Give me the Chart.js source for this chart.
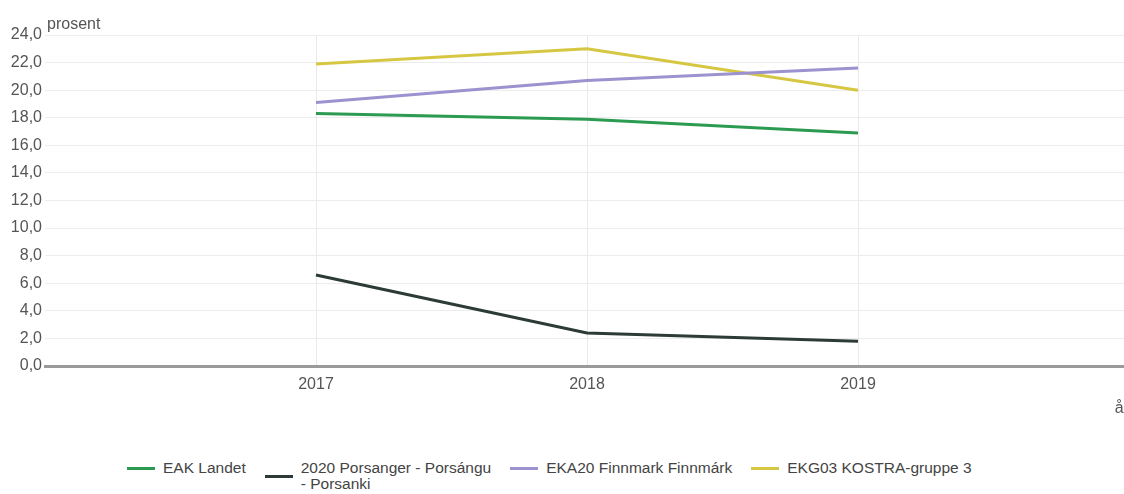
<!DOCTYPE html>
<html>
<head>
<meta charset="utf-8">
<script src="https://cdn.jsdelivr.net/npm/chart.js@4.4.1/dist/chart.umd.min.js"></script>
<style>
  html, body { margin: 0; padding: 0; background: #fff; overflow: hidden; }
  body { width: 1124px; height: 494px; position: relative; font-family: "Liberation Sans", Arial, sans-serif; }
  #wrap { position: absolute; left: 0; top: 0; width: 1130px; height: 430px; }
  #legend { position: absolute; left: 127px; top: 460px; display: flex; align-items: flex-start; font-size: 15.5px; color: #444; }
  .item { display: flex; align-items: center; margin-right: 19px; }
  .swatch { width: 28px; height: 3px; margin-right: 8px; flex: none; }
  .text { white-space: pre-line; line-height: 16px; }
</style>
</head>
<body>
<div id="wrap"><canvas id="chart" width="1130" height="430"></canvas></div>
<div id="legend"></div>
<script>
  // years on the x axis, values in percent
  const years = [2017, 2018, 2019];
  const seriesNames = [
    "EAK Landet",
    "2020 Porsanger - Porsángu\n- Porsanki",
    "EKA20 Finnmark Finnmárk",
    "EKG03 KOSTRA-gruppe 3",
  ];
  const landet = [18.3, 17.9, 16.9];
  const porsanger = [6.6, 2.4, 1.8];
  const finnmark = [19.1, 20.7, 21.6];
  const kostra = [21.9, 23.0, 20.0];
  const seriesColors = ["#2c9b52", "#2c3b37", "#9c92cf", "#d6c743"];
  const yTicks = [0, 2, 4, 6, 8, 10, 12, 14, 16, 18, 20, 22, 24];

  const font = { family: "'Liberation Sans', Arial, sans-serif", size: 16 };
  const toPoints = (vals) => vals.map((v, i) => ({ x: years[i], y: v }));

  const datasets = [landet, porsanger, finnmark, kostra].map((vals, i) => ({
    label: seriesNames[i],
    data: toPoints(vals),
    borderColor: seriesColors[i],
    backgroundColor: seriesColors[i],
    borderWidth: 3,
    pointRadius: 0,
    tension: 0,
  }));

  // unit label above the y axis
  const unitLabel = {
    id: "unitLabel",
    afterDraw(chart) {
      const { ctx, chartArea } = chart;
      ctx.save();
      ctx.font = "16px 'Liberation Sans', Arial, sans-serif";
      ctx.fillStyle = "#555";
      ctx.textBaseline = "alphabetic";
      ctx.fillText("prosent", chartArea.left + 2, chartArea.top - 6);
      ctx.restore();
    },
  };

  const chart = new Chart(document.getElementById("chart"), {
    type: "line",
    data: { datasets },
    options: {
      responsive: false,
      animation: false,
      devicePixelRatio: 1,
      layout: { padding: { top: 35, right: 1, left: 0, bottom: 0 } },
      scales: {
        x: {
          type: "linear",
          min: 2016,
          max: 2020,
          afterBuildTicks: (scale) => {
            scale.ticks = years.map((v) => ({ value: v }));
          },
          afterFit: (scale) => {
            scale.height = 64;
          },
          ticks: {
            color: "#555",
            font,
            padding: 9,
            maxRotation: 0,
            callback: (v) => String(v),
          },
          grid: { color: "#e9e9e9", lineWidth: 1, drawTicks: false },
          border: { display: true, color: "#9a9a9a", width: 3 },
          title: {
            display: true,
            text: "år",
            align: "end",
            color: "#555",
            font,
            padding: { top: 6, bottom: 12 },
          },
        },
        y: {
          min: 0,
          max: 24,
          afterBuildTicks: (scale) => {
            scale.ticks = yTicks.map((v) => ({ value: v }));
          },
          afterFit: (scale) => {
            scale.width = 45;
          },
          ticks: {
            color: "#555",
            font,
            padding: 3,
            callback: (v) => v.toFixed(1).replace(".", ","),
          },
          grid: { color: "#ececec", lineWidth: 1, drawTicks: false },
          border: { display: false },
        },
      },
      plugins: {
        legend: { display: false },
        tooltip: { enabled: false },
      },
    },
    plugins: [unitLabel],
  });

  // html legend built from the chart's datasets
  const legendEl = document.getElementById("legend");
  chart.data.datasets.forEach((ds) => {
    const item = document.createElement("div");
    item.className = "item";
    const sw = document.createElement("div");
    sw.className = "swatch";
    sw.style.background = ds.borderColor;
    const txt = document.createElement("div");
    txt.className = "text";
    txt.textContent = ds.label;
    item.appendChild(sw);
    item.appendChild(txt);
    legendEl.appendChild(item);
  });
</script>
</body>
</html>
